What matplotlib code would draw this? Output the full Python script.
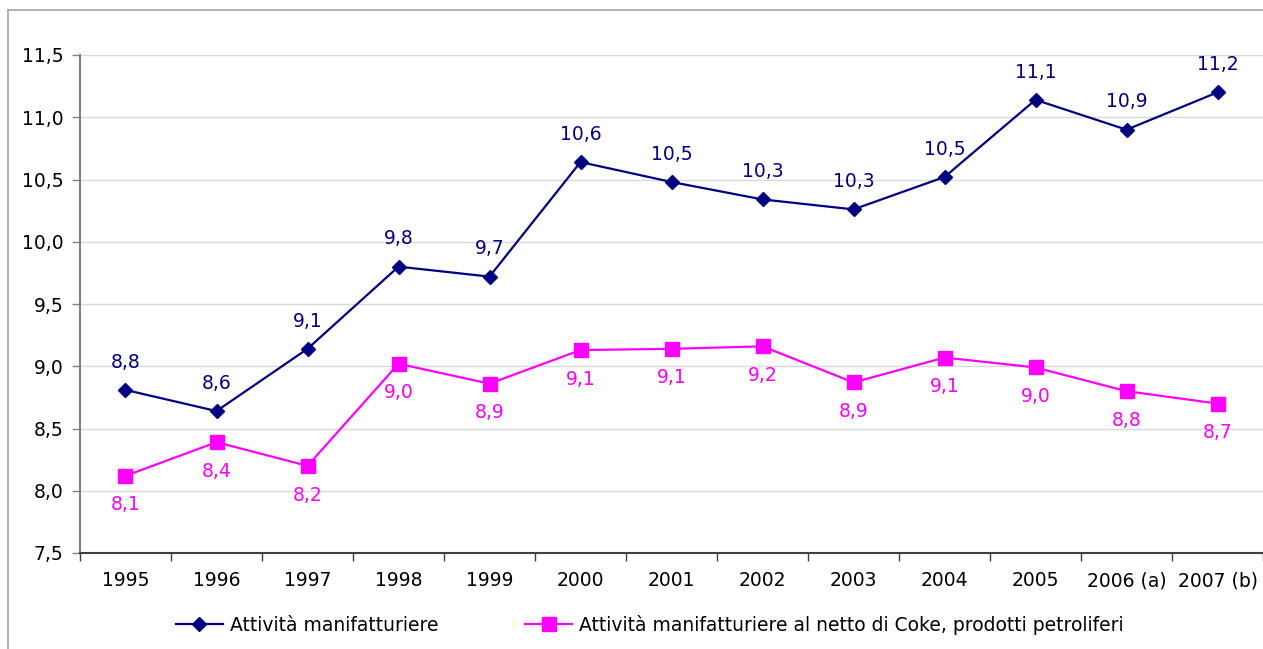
import matplotlib
matplotlib.use("Agg")
import matplotlib.pyplot as plt
from matplotlib.lines import Line2D

categories = ["1995", "1996", "1997", "1998", "1999", "2000", "2001", "2002",
              "2003", "2004", "2005", "2006 (a)", "2007 (b)"]
manif = [8.81, 8.64, 9.14, 9.80, 9.72, 10.64, 10.48, 10.34, 10.26, 10.52, 11.14, 10.90, 11.20]
manif_netto = [8.12, 8.39, 8.20, 9.02, 8.86, 9.13, 9.14, 9.16, 8.87, 9.07, 8.99, 8.80, 8.70]
label_manif = "Attività manifatturiere"
label_netto = "Attività manifatturiere al netto di Coke, prodotti petroliferi"
yticks = [7.5, 8.0, 8.5, 9.0, 9.5, 10.0, 10.5, 11.0, 11.5]

BLUE = "#000080"
PINK = "#FF00FF"
FS = 13.5

plt.rcParams['font.family'] = ['DejaVu Sans']

W, H = 1263, 649
fig = plt.figure(figsize=(W / 100, H / 100), dpi=100)
# outer chart frame (only left and top edges are visible)
fig.lines.append(Line2D([8 / W, 8 / W], [0, 1 - 10 / H], transform=fig.transFigure,
                        color="#a6a6a6", lw=1.2))
fig.lines.append(Line2D([8 / W, 1], [1 - 10 / H, 1 - 10 / H], transform=fig.transFigure,
                        color="#a6a6a6", lw=1.2))

ax = fig.add_axes([80 / W, 1 - 553 / H, (W - 80) / W, (553 - 55) / H])
x = list(range(len(categories)))

ax.plot(x, manif, color=BLUE, lw=1.6, marker="D", ms=7.5, label=label_manif, zorder=3)
ax.plot(x, manif_netto, color=PINK, lw=1.6, marker="s", ms=10, label=label_netto, zorder=3)

def fmt(v):
    return f"{v:.1f}".replace(".", ",")

for xi, v in zip(x, manif):
    ax.annotate(fmt(v), (xi, v), xytext=(0, 20), textcoords="offset points",
                ha="center", va="center", color=BLUE, fontsize=FS)
for xi, v in zip(x, manif_netto):
    ax.annotate(fmt(v), (xi, v), xytext=(0, -21), textcoords="offset points",
                ha="center", va="center", color=PINK, fontsize=FS)

ax.set_xlim(-0.5, len(categories) - 0.5)
ax.set_ylim(7.5, 11.5)
ax.set_yticks(yticks)
ax.set_yticklabels([fmt(v) for v in yticks], fontsize=FS)
ax.yaxis.grid(True, color="#d9d9d9", lw=1)
ax.set_axisbelow(True)

ax.set_xticks([i + 0.5 for i in range(-1, len(categories))], minor=False)
ax.set_xticklabels([])
ax.set_xticks(x, minor=True)
ax.set_xticklabels(categories, minor=True, fontsize=FS)
ax.tick_params(axis="x", which="major", length=6, width=1, color="#404040", direction="out")
ax.tick_params(axis="x", which="minor", length=0, pad=13)
ax.tick_params(axis="y", length=6, width=1, color="#808080", pad=6)

for s in ["top", "right"]:
    ax.spines[s].set_visible(False)
ax.spines["left"].set_color("#808080")
ax.spines["left"].set_linewidth(1.5)
ax.spines["bottom"].set_color("#404040")
ax.spines["bottom"].set_linewidth(1.5)

fig.legend(loc="center", bbox_to_anchor=(650 / W, 1 - 625 / H), ncol=2, frameon=False,
           fontsize=FS, handlelength=2.5, columnspacing=4.6, handletextpad=0.4)

fig.savefig("out.png", dpi=100)
